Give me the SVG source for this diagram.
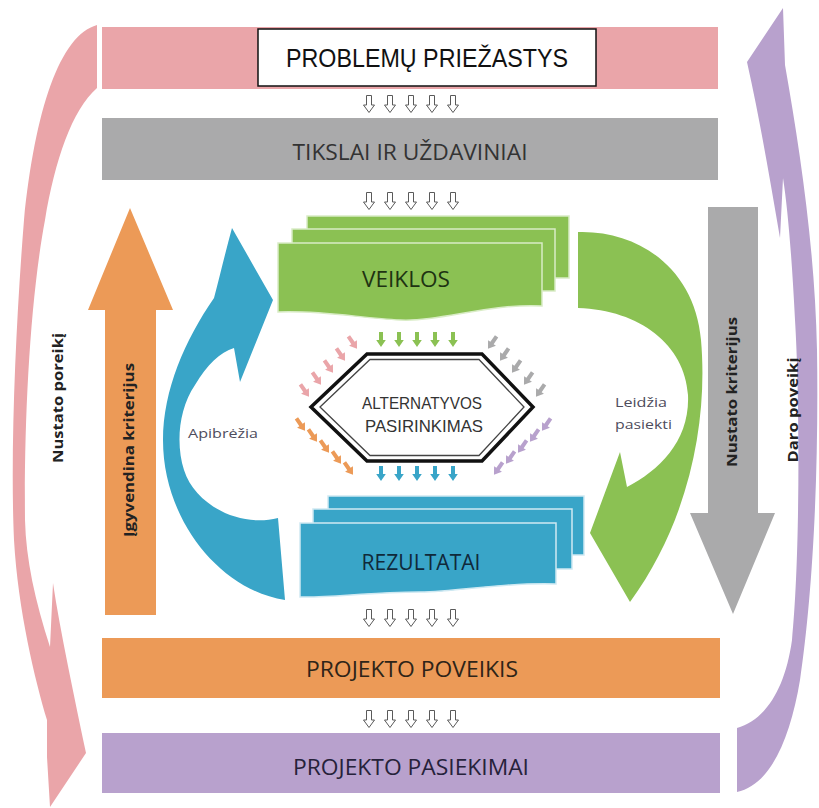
<svg xmlns="http://www.w3.org/2000/svg" width="819" height="808" viewBox="0 0 819 808">
<defs>
<style>
.band{font-family:"Open Sans","Liberation Sans",sans-serif;font-size:21px;text-anchor:middle}
.hex{font-family:"Liberation Sans",Arial,sans-serif;font-size:17px;text-anchor:middle;fill:#333}
.vlab{font-family:"Open Sans","Liberation Sans",sans-serif;font-weight:bold;font-size:15px;fill:#222;text-anchor:middle}
.small{font-family:"Open Sans","Liberation Sans",sans-serif;font-size:13px;fill:#4e4c5c}
.hol{fill:#fff;stroke:#5a5a5a;stroke-width:1}
</style>
<path id="ha" d="M-2.5,-8.5 L2.5,-8.5 L2.5,1 L5.5,1 L0,8.5 L-5.5,1 L-2.5,1 Z"/>
<path id="sa" d="M-2,-8 L2,-8 L2,0 L4.8,0 L0,7 L-4.8,0 L-2,0 Z"/>
<g id="hrow">
<use href="#ha" class="hol" x="369"/><use href="#ha" class="hol" x="390"/><use href="#ha" class="hol" x="411"/><use href="#ha" class="hol" x="432"/><use href="#ha" class="hol" x="453"/>
</g>
</defs>
<rect width="819" height="808" fill="#fff"/>

<g id="connectors">
<path fill="#eaa5a9" d="M97,25 C60,35 35,110 24,220 C16,320 10,450 14,540 C18,610 35,680 47,720 L47,757 L50,807 L86,753 C75,700 60,630 53,583 L50,647 C35,600 26,560 25,520 C24,420 30,300 45,220 C55,160 72,110 97,88 Z"/>
<path fill="#b8a1cd" d="M783,8 L785,65 C800,150 815,250 817,350 C819,480 812,600 800,680 C790,740 770,785 737,792 L737,728 C765,720 785,690 792,640 C800,560 800,400 795,320 C792,260 788,210 783,178 L780,238 C770,180 760,120 747,62 Z"/>
<path fill="#ec9a57" d="M130,208 L173,310 L156,310 L156,615 L105,615 L105,310 L88,310 Z"/>
<path fill="#aaaaab" d="M708,207 L758,207 L758,513 L775,513 L733,614 L690,513 L708,513 Z"/>
<path fill="#39a5c8" d="M273,300 L232,228 C226,250 220,275 214,298 C185,340 163,390 163,440 C163,520 220,590 285,600 L278,518 C240,528 195,505 184,470 C176,445 178,410 195,385 C207,365 220,352 234,348 L240,382 Z"/>
<path fill="#8bc153" d="M578,232 C640,230 695,270 701,340 C708,420 690,520 630,602 L590,533 L620,452 L627,487 C660,470 690,440 688,395 C685,345 640,310 578,308 Z"/>
<use href="#hrow" y="104"/>
<use href="#hrow" y="201"/>
<use href="#hrow" y="618"/>
<use href="#hrow" y="719"/>
<g fill="#8bc153">
<use href="#sa" x="381" y="340"/><use href="#sa" x="399" y="340"/><use href="#sa" x="417" y="340"/><use href="#sa" x="435" y="340"/><use href="#sa" x="453" y="340"/>
</g>
<g fill="#39a5c8">
<use href="#sa" x="381" y="474"/><use href="#sa" x="399" y="474"/><use href="#sa" x="417" y="474"/><use href="#sa" x="435" y="474"/><use href="#sa" x="453" y="474"/>
</g>
<g fill="#eaa5a9">
<use href="#sa" transform="translate(353,343) rotate(-35)"/><use href="#sa" transform="translate(341,355) rotate(-35)"/><use href="#sa" transform="translate(329,367) rotate(-35)"/><use href="#sa" transform="translate(317,379) rotate(-35)"/><use href="#sa" transform="translate(305,391) rotate(-35)"/>
</g>
<g fill="#aaaaab">
<use href="#sa" transform="translate(492,343) rotate(35)"/><use href="#sa" transform="translate(504,355) rotate(35)"/><use href="#sa" transform="translate(516,367) rotate(35)"/><use href="#sa" transform="translate(528,379) rotate(35)"/><use href="#sa" transform="translate(540,391) rotate(35)"/>
</g>
<g fill="#ec9a57">
<use href="#sa" transform="translate(301,425) rotate(-35)"/><use href="#sa" transform="translate(313,436) rotate(-35)"/><use href="#sa" transform="translate(325,447) rotate(-35)"/><use href="#sa" transform="translate(337,458) rotate(-35)"/><use href="#sa" transform="translate(349,469) rotate(-35)"/>
</g>
<g fill="#b8a1cd">
<use href="#sa" transform="translate(546,425) rotate(35)"/><use href="#sa" transform="translate(534,436) rotate(35)"/><use href="#sa" transform="translate(522,447) rotate(35)"/><use href="#sa" transform="translate(510,458) rotate(35)"/><use href="#sa" transform="translate(498,469) rotate(35)"/>
</g>
</g>

<g id="problemos">
<rect x="102" y="27" width="616" height="62" fill="#eaa5a9"/>
<rect x="258" y="29" width="338" height="57" fill="#fff" stroke="#111" stroke-width="1.5"/>
<text x="427" y="67" font-family="Liberation Sans, Arial, sans-serif" font-size="25" fill="#111" text-anchor="middle" textLength="282" lengthAdjust="spacingAndGlyphs">PROBLEMŲ PRIEŽASTYS</text>
</g>

<g id="tikslai">
<rect x="102" y="118" width="616" height="62" fill="#aaaaab"/>
<text class="band" x="410" y="160" fill="#333" textLength="235" lengthAdjust="spacingAndGlyphs">TIKSLAI IR UŽDAVINIAI</text>
</g>

<g id="veiklos">
<path d="M307,216 L569,216 L569,278 L307,278 Z" fill="#8bc153" stroke="#d9ecc6" stroke-width="1.5"/>
<path d="M292,229 L555,229 L555,291 L292,291 Z" fill="#8bc153" stroke="#d9ecc6" stroke-width="1.5"/>
<path d="M278,243 L542,243 L542,306 C490,303 440,322 400,320 C360,318 320,310 278,312 Z" fill="#8bc153" stroke="#d9ecc6" stroke-width="1.5"/>
<text class="band" x="406" y="287" fill="#1e3312" textLength="88" lengthAdjust="spacingAndGlyphs">VEIKLOS</text>
</g>

<g id="alternatyvos">
<polygon points="311,407 367,354 482,354 533,407 482,461 367,461" fill="#fff" stroke="#111" stroke-width="3.5"/>
<polygon points="320,407 370,359.5 479,359.5 524,407 479,455.5 370,455.5" fill="none" stroke="#444" stroke-width="1.3"/>
<text class="hex" x="422" y="409" textLength="120" lengthAdjust="spacingAndGlyphs">ALTERNATYVOS</text>
<text class="hex" x="424" y="432" textLength="118" lengthAdjust="spacingAndGlyphs">PASIRINKIMAS</text>
</g>

<g id="rezultatai">
<path d="M328,496 L584,496 L584,555 L328,555 Z" fill="#39a5c8" stroke="#cfe9f2" stroke-width="1.5"/>
<path d="M313,509 L572,509 L572,569 L313,569 Z" fill="#39a5c8" stroke="#cfe9f2" stroke-width="1.5"/>
<path d="M300,523 L556,523 L556,584 C500,582 460,592 420,592 C370,592 330,598 300,597 Z" fill="#39a5c8" stroke="#cfe9f2" stroke-width="1.5"/>
<text class="band" x="421" y="570" fill="#10293a" textLength="119" lengthAdjust="spacingAndGlyphs">REZULTATAI</text>
</g>

<g id="poveikis">
<rect x="102" y="638" width="618" height="60" fill="#ec9a57"/>
<text class="band" x="412" y="677" fill="#2e2418" textLength="212" lengthAdjust="spacingAndGlyphs">PROJEKTO POVEIKIS</text>
</g>

<g id="pasiekimai">
<rect x="102" y="733" width="618" height="60" fill="#b8a1cd"/>
<text class="band" x="411" y="775" fill="#26223a" textLength="236" lengthAdjust="spacingAndGlyphs">PROJEKTO PASIEKIMAI</text>
</g>

<g id="labels">
<text class="vlab" transform="translate(63,398) rotate(-90)" textLength="130" lengthAdjust="spacingAndGlyphs">Nustato poreikį</text>
<text class="vlab" font-size="16" transform="translate(134,450) rotate(-90)" textLength="174" lengthAdjust="spacingAndGlyphs">Įgyvendina kriterijus</text>
<text class="vlab" font-size="16" transform="translate(737,392) rotate(-90)" textLength="150" lengthAdjust="spacingAndGlyphs">Nustato kriterijus</text>
<text class="vlab" transform="translate(798,410) rotate(-90)" textLength="105" lengthAdjust="spacingAndGlyphs">Daro poveikį</text>
<text class="small" x="188" y="438" textLength="70" lengthAdjust="spacingAndGlyphs">Apibrėžia</text>
<text class="small" x="615" y="407" textLength="52" lengthAdjust="spacingAndGlyphs">Leidžia</text>
<text class="small" x="615" y="429" textLength="57" lengthAdjust="spacingAndGlyphs">pasiekti</text>
</g>
</svg>
